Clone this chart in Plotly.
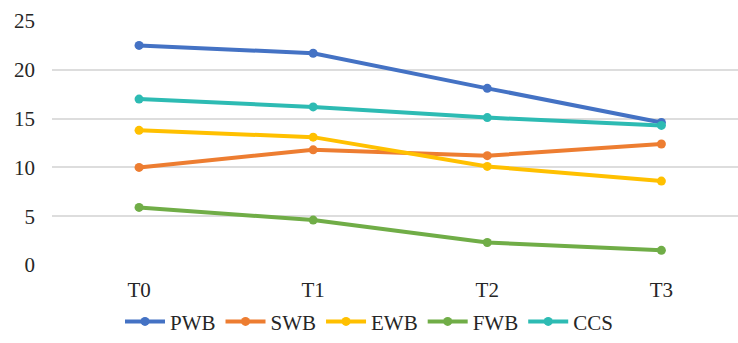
import plotly.graph_objects as go

# Time points and series values
stages = ["T0", "T1", "T2", "T3"]
pwb = [22.5, 21.7, 18.1, 14.6]
swb = [10.0, 11.8, 11.2, 12.4]
ewb = [13.8, 13.1, 10.1, 8.6]
fwb = [5.9, 4.6, 2.3, 1.5]
ccs = [17.0, 16.2, 15.1, 14.3]

y_ticks = [0, 5, 10, 15, 20, 25]

series = [
    ("PWB", pwb, "#4472C4"),
    ("SWB", swb, "#ED7D31"),
    ("EWB", ewb, "#FFC000"),
    ("FWB", fwb, "#70AD47"),
    ("CCS", ccs, "#2DBBB3"),
]

fig = go.Figure()
for name, vals, color in series:
    fig.add_trace(go.Scatter(
        x=stages, y=vals, name=name, mode="lines+markers",
        line=dict(color=color, width=4),
        marker=dict(color=color, size=9),
    ))

font_family = "'Liberation Serif', 'DejaVu Serif', serif"
text_color = "#262626"

fig.update_layout(
    width=738, height=343,
    margin=dict(l=52, r=0, t=21, b=78),
    paper_bgcolor="white", plot_bgcolor="white",
    font=dict(family=font_family, size=21, color=text_color),
    showlegend=True,
    legend=dict(
        orientation="h", xref="container", yref="container",
        x=0.5, xanchor="center", y=0.062, yanchor="middle",
        font=dict(family=font_family, size=21, color=text_color),
        itemwidth=40, tracegroupgap=0,
    ),
    xaxis=dict(
        type="category", range=[-0.5, 3.44],
        showgrid=False, zeroline=False, showline=False,
        ticks="", ticklabelstandoff=10,
        tickfont=dict(family=font_family, size=21, color=text_color),
    ),
    yaxis=dict(
        range=[0, 25], tickvals=y_ticks,
        showgrid=True, gridcolor="#DDDDDD", gridwidth=1.5,
        zeroline=False, showline=False, ticks="",
        ticklabelstandoff=16,
        tickfont=dict(family=font_family, size=21, color=text_color),
    ),
)

fig.write_html("out.html")
